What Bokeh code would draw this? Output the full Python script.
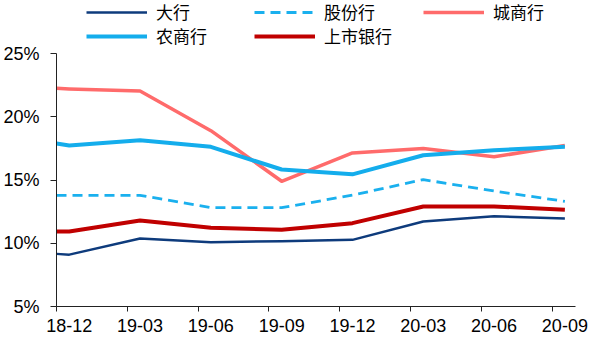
from bokeh.plotting import figure
from bokeh.models import (LinearAxis, FixedTicker, Range1d, Legend, LegendItem,
                          PrintfTickFormatter)
from bokeh.embed import file_html
from bokeh.resources import INLINE

# ---- data ----
categories = ["18-12", "19-03", "19-06", "19-09", "19-12", "20-03", "20-06", "20-09"]
start_offset = -0.18  # first reading sits at the axis edge, just before 18-12
y_ticks = [5, 10, 15, 20, 25]

big_banks = [9.16, 9.10, 10.37, 10.08, 10.16, 10.27, 11.72, 12.14, 11.96]          # 大行
joint_stock = [13.79, 13.79, 13.79, 12.81, 12.81, 13.80, 15.03, 14.13, 13.31]      # 股份行
city_banks = [22.25, 22.20, 22.04, 18.90, 14.90, 17.14, 17.49, 16.83, 17.73]       # 城商行
rural_banks = [17.89, 17.73, 18.15, 17.62, 15.83, 15.45, 16.96, 17.36, 17.62]      # 农商行
listed_banks = [10.93, 10.93, 11.80, 11.22, 11.06, 11.59, 12.91, 12.91, 12.65]     # 上市银行

x = [start_offset] + list(range(len(categories)))

LATIN = "Liberation Sans"
CJK = "Noto Sans CJK SC"

# frame spans the full height; the extra room above 25% holds the legend
p = figure(width=600, height=353, output_backend="svg", toolbar_location=None,
           x_range=Range1d(start_offset, 7.15), y_range=Range1d(5, 29.19),
           x_axis_location=None, y_axis_location=None,
           min_border_left=56, min_border_right=25, min_border_top=0, min_border_bottom=47)
p.grid.visible = False
p.outline_line_color = None
p.background_fill_color = "white"
p.border_fill_color = "white"

series = [
    ("大行", big_banks, "#0E3B7C", 2.5, "solid"),
    ("股份行", joint_stock, "#1AB0EE", 2.8, "10 6"),
    ("城商行", city_banks, "#FF6B6B", 3.5, "solid"),
    ("农商行", rural_banks, "#14ADEC", 4.0, "solid"),
    ("上市银行", listed_banks, "#C00000", 4.0, "solid"),
]
renderers = {}
for name, vals, color, w, dash in series:
    r = p.line(x, vals, line_color=color, line_width=w, line_dash=dash, line_join="round")
    renderers[name] = r

# ---- axes ----
yax = LinearAxis(ticker=FixedTicker(ticks=y_ticks), formatter=PrintfTickFormatter(format="%d%%"),
                 bounds=(y_ticks[0], y_ticks[-1]))
yax.major_tick_out = 6
yax.major_tick_in = 0
yax.minor_tick_line_color = None
yax.major_label_standoff = 11
yax.major_label_text_font = LATIN
yax.major_label_text_font_size = "18px"
yax.major_label_text_color = "black"
yax.axis_line_color = "#222222"
yax.major_tick_line_color = "#222222"
p.add_layout(yax, "left")

xtick = LinearAxis(ticker=FixedTicker(ticks=[k + start_offset for k in range(len(categories))]))
xtick.major_label_overrides = {k + start_offset: "" for k in range(len(categories))}
xtick.major_label_text_font_size = "0px"
xtick.major_label_standoff = 0
xtick.major_tick_out = 5
xtick.major_tick_in = 0
xtick.minor_tick_line_color = None
xtick.axis_line_color = "#222222"
xtick.major_tick_line_color = "#222222"
p.add_layout(xtick, "below")

xlab = LinearAxis(ticker=FixedTicker(ticks=list(range(len(categories)))))
xlab.major_label_overrides = {i: c for i, c in enumerate(categories)}
xlab.axis_line_color = None
xlab.major_tick_line_color = None
xlab.major_tick_out = 0
xlab.major_tick_in = 0
xlab.minor_tick_line_color = None
xlab.major_label_standoff = 7
xlab.major_label_text_font = LATIN
xlab.major_label_text_font_size = "18px"
xlab.major_label_text_color = "black"
p.add_layout(xlab, "below")

# ---- legend (2 rows x 3 columns, above the 25% line) ----
legend_pos = {
    "大行": (30, 282), "股份行": (198, 282), "城商行": (367, 282),
    "农商行": (30, 258), "上市银行": (198, 258),
}
for name, loc in legend_pos.items():
    lg = Legend(items=[LegendItem(label=name, renderers=[renderers[name]])], location=loc,
                padding=0, margin=0, spacing=0, glyph_width=61, glyph_height=20,
                label_height=20, label_standoff=9, label_text_font=CJK,
                label_text_font_size="17px", label_text_color="black",
                border_line_alpha=0, background_fill_alpha=0)
    p.add_layout(lg)

open("out.html", "w").write(file_html(p, INLINE))
